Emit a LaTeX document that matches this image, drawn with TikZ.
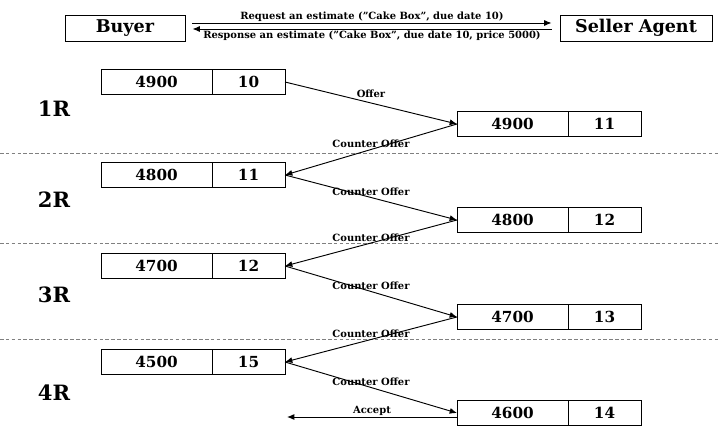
\documentclass[tikz,border=0pt]{standalone}
\usepackage{fontspec}
\setmainfont{DejaVu Serif}
\usetikzlibrary{arrows.meta,positioning}
\tikzset{
  party/.style={draw,thick,minimum height=0.78cm,inner sep=2pt,
    font=\fontsize{15}{17}\selectfont\bfseries},
  price/.style={draw,thick,minimum width=3.33cm,minimum height=0.75cm,
    inner sep=0pt,outer sep=0pt,font=\fontsize{13}{15}\selectfont\bfseries},
  day/.style={price,minimum width=2.19cm},
  round/.style={font=\fontsize{18}{20}\selectfont\bfseries},
  msg/.style={-{Latex[length=2.2mm,width=1.8mm]},thick},
  lbl/.style={font=\fontsize{8.5}{10}\selectfont\bfseries,inner sep=1pt},
  sep/.style={densely dashed,gray,thin}
}
\begin{document}
\begin{tikzpicture}[x=0.03cm,y=-0.03cm]
  \useasboundingbox (0,0) rectangle (719,431);
  % estimate request
  \node[party,minimum width=3.6cm] (buyer) at (125,28) {Buyer};
  \node[party,minimum width=4.56cm] (seller) at (636,28) {Seller Agent};
  \draw[msg] ([xshift=0.21cm,yshift=0.15cm]buyer.east) --
    node[lbl,above]{Request an estimate ("Cake Box", due date 10)}
    ([xshift=-0.24cm,yshift=0.15cm]seller.west);
  \draw[msg] ([xshift=-0.24cm,yshift=-0.03cm]seller.west) --
    node[lbl,below]{Response an estimate ("Cake Box", due date 10, price 5000)}
    ([xshift=0.21cm,yshift=-0.03cm]buyer.east);
  % rounds
  \node[round] (r1) at (54,109) {1R};
  \node[round] (r2) at (54,200) {2R};
  \node[round] (r3) at (54,295) {3R};
  \node[round] (r4) at (54,393) {4R};
  \draw[sep] (0,153) -- (719,153);
  \draw[sep] (0,243) -- (719,243);
  \draw[sep] (0,339) -- (719,339);
  % buyer side
  \node[price,anchor=west] (buy1) at (101,82) {4900};
  \node[day,right=0pt of buy1] (bday1) {10};
  \node[price,anchor=west] (buy2) at (101,175) {4800};
  \node[day,right=0pt of buy2] (bday2) {11};
  \node[price,anchor=west] (buy3) at (101,266) {4700};
  \node[day,right=0pt of buy3] (bday3) {12};
  \node[price,anchor=west] (buy4) at (101,362) {4500};
  \node[day,right=0pt of buy4] (bday4) {15};
  % seller side
  \node[price,anchor=west] (sel1) at (457,124) {4900};
  \node[day,right=0pt of sel1] (sday1) {11};
  \node[price,anchor=west] (sel2) at (457,220) {4800};
  \node[day,right=0pt of sel2] (sday2) {12};
  \node[price,anchor=west] (sel3) at (457,317) {4700};
  \node[day,right=0pt of sel3] (sday3) {13};
  \node[price,anchor=west] (sel4) at (457,413) {4600};
  \node[day,right=0pt of sel4] (sday4) {14};
  % offers
  \draw[msg] (bday1.east) -- node[lbl,above=3pt]{Offer} (sel1.west);
  \draw[msg] (sel1.west) -- node[lbl,above]{Counter Offer} (bday2.east);
  \draw[msg] (bday2.east) -- node[lbl,above]{Counter Offer} (sel2.west);
  \draw[msg] (sel2.west) -- node[lbl,above]{Counter Offer} (bday3.east);
  \draw[msg] (bday3.east) -- node[lbl,above]{Counter Offer} (sel3.west);
  \draw[msg] (sel3.west) -- node[lbl,above]{Counter Offer} (bday4.east);
  \draw[msg] (bday4.east) -- node[lbl,above]{Counter Offer} (sel4.west);
  \coordinate (acc) at (287,417);
  \draw[msg] ([yshift=-0.12cm]sel4.west) -- node[lbl,above]{Accept} (acc);
\end{tikzpicture}
\end{document}
